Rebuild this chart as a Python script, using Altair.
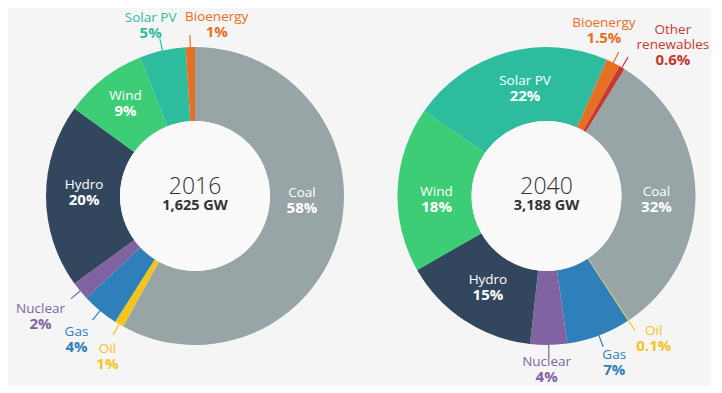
import math
import altair as alt
import pandas as pd

# ---- data ----
sources = ["Coal", "Oil", "Gas", "Nuclear", "Hydro", "Wind", "Solar PV", "Bioenergy", "Other renewables"]
colors = ["#97a5a7", "#f2c41c", "#2f80ba", "#8064a2", "#32475e", "#3ccd76", "#2dbd9e", "#e56f22", "#c6392e"]

names_2016 = ["Coal", "Oil", "Gas", "Nuclear", "Hydro", "Wind", "Solar PV", "Bioenergy"]
shares_2016 = [58, 1, 4, 2, 20, 9, 5, 1]

names_2040 = ["Coal", "Oil", "Gas", "Nuclear", "Hydro", "Wind", "Solar PV", "Bioenergy", "Other renewables"]
shares_2040 = [32, 0.1, 7, 4, 15, 18, 22, 1.5, 0.6]

years = ["2016", "2040"]
capacities = ["1,625 GW", "3,188 GW"]

# ---- label placement (angle nudge in degrees, label radius in px) ----
layout_2016 = {"Coal": (-12, 107), "Oil": (-2, 183), "Gas": (0, 186), "Nuclear": (1.6, 196),
               "Hydro": (2, 111), "Wind": (1, 116), "Solar PV": (-2, 176), "Bioenergy": (9, 173)}
layout_2040 = {"Coal": (3, 110), "Oil": (-3.7, 178), "Gas": (-1.5, 180), "Nuclear": (0.8, 174),
               "Hydro": (-0.8, 109), "Wind": (-4.4, 110), "Solar PV": (4.3, 110),
               "Bioenergy": (-7.5, 175), "Other renewables": (11, 191)}

FONT = "Open Sans"
BG = "#f5f5f5"
R_OUT = 149
R_IN = 75


def donut(names, shares, year, cap, start_deg, layout, width, height):
    total = sum(shares)
    c0, c1, acc = [], [], 0.0
    for s in shares:
        c0.append(acc)
        acc += s
        c1.append(acc)
    rows = []
    for n, s, a, b in zip(names, shares, c0, c1):
        nudge, r = layout[n]
        words = n.split(" ")
        two_line = n == "Other renewables"
        rows.append({
            "name": n,
            "pre": words[0] if two_line else "",
            "label": words[1] if two_line else n,
            "pct": f"{s:g}%",
            "c0": a, "c1": b,
            "lm": (a + b) / 2,
            "mid": (a + b) / 2 + nudge * total / 360.0,
            "r": r,
            "outer": r > 150,
        })
    df = pd.DataFrame(rows)
    a0 = math.radians(start_deg)
    tscale = alt.Scale(domain=[0, total], range=[a0, a0 + 2 * math.pi])
    cscale = alt.Scale(domain=sources, range=colors)
    col = alt.Color("name:N", scale=cscale, legend=None)

    base = alt.Chart(df)
    ring = base.mark_arc(radius=R_OUT, radius2=R_IN).encode(
        theta=alt.Theta("c0:Q", scale=tscale, stack=False),
        theta2="c1:Q",
        color=col,
    )
    hole = alt.Chart(pd.DataFrame({"k": [0]})).mark_arc(radius=R_IN, radius2=0, color="#f9f9f9").encode(
        theta=alt.value(0), theta2=alt.value(2 * math.pi)
    )
    leaders = base.transform_filter("datum.outer").mark_arc(
        radius=161, radius2=R_OUT, strokeWidth=1.2, fillOpacity=0
    ).encode(
        theta=alt.Theta("lm:Q", scale=tscale, stack=False),
        theta2="lm:Q",
        stroke=alt.Stroke("name:N", scale=cscale, legend=None),
    )
    pos = dict(theta=alt.Theta("mid:Q", scale=tscale, stack=False),
               radius=alt.Radius("r:Q", scale=None))
    inner = base.transform_filter("!datum.outer")
    outer = base.transform_filter("datum.outer")
    in_name = inner.mark_text(font=FONT, fontSize=13.5, color="white", baseline="middle", dy=-7.5).encode(
        text="label:N", **pos)
    in_pct = inner.mark_text(font=FONT, fontSize=15, fontWeight="bold", color="white",
                             baseline="middle", dy=7.5).encode(text="pct:N", **pos)
    out_pre = outer.transform_filter("datum.pre != ''").mark_text(
        font=FONT, fontSize=13.5, baseline="middle", dy=-22.5).encode(text="pre:N", color=col, **pos)
    out_name = outer.mark_text(font=FONT, fontSize=13.5, baseline="middle", dy=-7.5).encode(
        text="label:N", color=col, **pos)
    out_pct = outer.mark_text(font=FONT, fontSize=15, fontWeight="bold", baseline="middle", dy=7.5).encode(
        text="pct:N", color=col, **pos)
    cdf = pd.DataFrame({"year": [year], "cap": [cap]})
    yr = alt.Chart(cdf).mark_text(font=FONT, fontSize=23, fontWeight=300, color="#333333",
                                  baseline="middle", dy=-9).encode(text="year:N")
    cp = alt.Chart(cdf).mark_text(font=FONT, fontSize=14.5, fontWeight="bold", color="#333333",
                                  baseline="middle", dy=10).encode(text="cap:N")
    return alt.layer(ring, hole, leaders, in_name, in_pct, out_pre, out_name, out_pct, yr, cp).properties(
        width=width, height=height)


left = donut(names_2016, shares_2016, years[0], capacities[0], 0, layout_2016, 374, 376)
right = donut(names_2040, shares_2040, years[1], capacities[1], 31.5, layout_2040, 329, 376)

chart = alt.hconcat(left, right, spacing=0, bounds="flush").properties(
    padding=0, background=BG
).configure_view(stroke=None)

chart.save("out.html", embed_options={"renderer": "svg", "actions": False})
